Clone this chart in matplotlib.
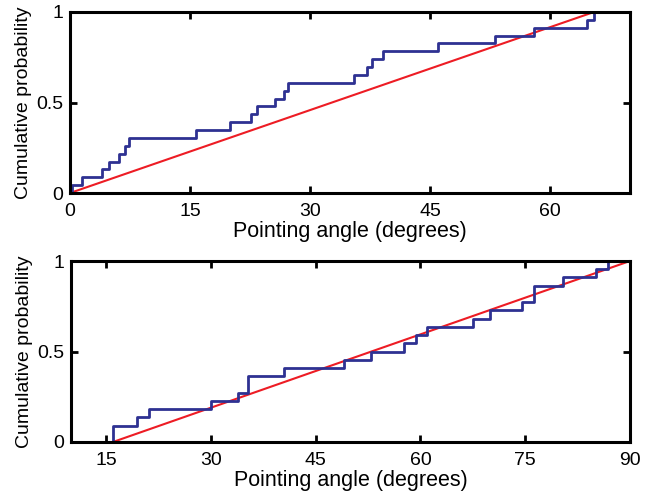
import matplotlib
matplotlib.use("Agg")
import matplotlib.pyplot as plt
import numpy as np

plt.rcParams['font.family'] = ['Liberation Sans', 'DejaVu Sans']

top_angles = [0.3, 1.5, 4.0, 4.9, 6.1, 6.9, 7.4, 15.8, 20.0, 22.6, 23.4, 25.6,
              26.8, 27.3, 35.5, 37.1, 37.7, 39.1, 46.0, 53.1, 58.0, 64.6, 65.5]
bot_angles = [16.0, 16.0, 19.4, 21.1, 30.1, 33.9, 35.4, 35.4, 40.5, 49.1, 52.9,
              57.6, 59.4, 61.0, 67.6, 70.0, 74.5, 76.2, 76.2, 80.4, 85.1, 86.9]

# uniform reference lines (start, end)
top_ref = [0.0, 65.5]
bot_ref = [16.0, 90.0]

top_xticks = [0, 15, 30, 45, 60]
bot_xticks = [15, 30, 45, 60, 75, 90]

blue = '#2e3192'
red = '#ed1c24'

fig = plt.figure(figsize=(6.52, 4.93), dpi=100)
ax1 = fig.add_axes([70/652, 1-193/493, 560/652, 181/493])
ax2 = fig.add_axes([71/652, 1-442/493, 559/652, 181/493])


def ecdf(ax, angles, ref, xlim, xticks):
    a = np.sort(np.array(angles))
    n = len(a)
    x = np.concatenate([[a[0]], a])
    y = np.concatenate([[0], np.arange(1, n+1)/n])
    ax.plot(ref, [0, 1], color=red, lw=1.5)
    ax.step(x, y, where='post', color=blue, lw=2)
    ax.set_xlim(xlim)
    ax.set_ylim(0, 1)
    ax.set_xticks(xticks)
    ax.set_yticks([0, 0.5, 1])
    ax.set_yticklabels(['0', '0.5', '1'])
    ax.tick_params(direction='in', length=5, width=2, top=True, right=True,
                   labelsize=14)
    ax.tick_params(axis='x', pad=7)
    ax.tick_params(axis='y', pad=5)
    for s in ax.spines.values():
        s.set_linewidth(2.2)
    ax.set_xlabel('Pointing angle (degrees)', fontsize=15.5, labelpad=1)
    ax.set_ylabel('Cumulative probability', fontsize=14, labelpad=3)


ecdf(ax1, top_angles, top_ref, (0, 70), top_xticks)
ecdf(ax2, bot_angles, bot_ref, (10, 90), bot_xticks)

fig.savefig('out.png', dpi=100)
